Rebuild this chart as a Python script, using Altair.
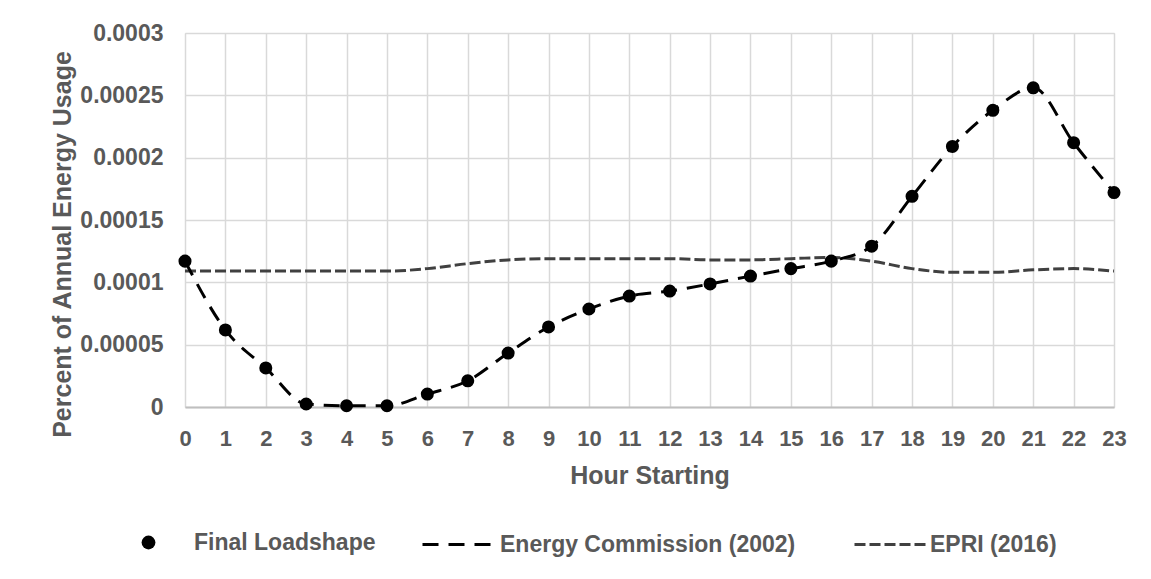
import altair as alt
import pandas as pd

hours = list(range(24))
final_loadshape = [0.000117, 0.0000618, 0.0000313, 0.0000024, 0.000001, 0.000001,
                   0.0000104, 0.000021, 0.0000433, 0.0000642, 0.0000786, 0.000089,
                   0.000093, 0.0000987, 0.000105, 0.000111, 0.000117, 0.000129,
                   0.000169, 0.000209, 0.000238, 0.000256, 0.000212, 0.000172]
energy_commission = [0.000117, 0.0000618, 0.0000313, 0.0000024, 0.000001, 0.000001,
                     0.0000104, 0.000021, 0.0000433, 0.0000642, 0.0000786, 0.000089,
                     0.000093, 0.0000987, 0.000105, 0.000111, 0.000117, 0.000129,
                     0.000169, 0.000209, 0.000238, 0.000256, 0.000212, 0.000172]
epri = [0.000109, 0.000109, 0.000109, 0.000109, 0.000109, 0.000109,
        0.000111, 0.000115, 0.000118, 0.000119, 0.000119, 0.000119,
        0.000119, 0.000118, 0.000118, 0.000119, 0.000120, 0.000117,
        0.000111, 0.000108, 0.000108, 0.000110, 0.000111, 0.000109]
y_ticks = [0, 0.00005, 0.0001, 0.00015, 0.0002, 0.00025, 0.0003]

df_final = pd.DataFrame({"hour": hours, "value": final_loadshape, "series": "Final Loadshape"})
df_ec = pd.DataFrame({"hour": hours, "value": energy_commission, "series": "Energy Commission (2002)"})
df_epri = pd.DataFrame({"hour": hours, "value": epri, "series": "EPRI (2016)"})

W, H = 929, 374
GRAY = "#595959"
FONT = "Liberation Sans"

axis_style = dict(labelFontWeight="bold", labelColor=GRAY, labelFont=FONT,
                  titleFont=FONT, titleFontSize=25, titleFontWeight="bold", titleColor=GRAY,
                  gridColor="#d9d9d9", gridWidth=1.5, tickSize=0, grid=True)

x_enc = alt.X("hour:Q", scale=alt.Scale(domain=[0, 23], nice=False),
              axis=alt.Axis(values=hours, format="d", title="Hour Starting",
                            labelFontSize=22, labelPadding=21, labelFlush=False,
                            labelOverlap=False,
                            titleY=68, titleBaseline="middle",
                            domainColor="#bfbfbf", domainWidth=2, **axis_style))
y_enc = alt.Y("value:Q", scale=alt.Scale(domain=[0, 0.0003], nice=False),
              axis=alt.Axis(values=y_ticks, format=".5~f",
                            title="Percent of Annual Energy Usage",
                            labelFontSize=23, labelPadding=22, domain=False,
                            labelFlush=False,
                            titleX=-123, titleY=211, titleAlign="center",
                            titleBaseline="middle", **axis_style))

leg_common = dict(orient="none", title=None, direction="horizontal",
                  labelFont=FONT, labelFontSize=23, labelFontWeight="bold",
                  labelColor=GRAY, padding=0, labelLimit=0)

epri_layer = alt.Chart(df_epri).mark_line(
    strokeWidth=3, strokeDash=[11, 4], interpolate="monotone"
).encode(
    x=x_enc, y=y_enc,
    color=alt.Color("series:N", scale=alt.Scale(range=["#404040"]),
                    legend=alt.Legend(legendX=668, legendY=474, symbolType="stroke",
                                      symbolSize=5184, symbolDash=[11, 4],
                                      symbolStrokeWidth=3, labelOffset=2, **leg_common))
)

ec_layer = alt.Chart(df_ec).mark_line(
    strokeWidth=3, strokeDash=[16, 10], interpolate="monotone"
).encode(
    x=x_enc, y=y_enc,
    color=alt.Color("series:N", scale=alt.Scale(range=["black"]),
                    legend=alt.Legend(legendX=236, legendY=473, symbolType="stroke",
                                      symbolSize=5476, symbolDash=[16, 10],
                                      symbolStrokeWidth=3, labelOffset=2, **leg_common))
)

pt_layer = alt.Chart(df_final).mark_circle(size=170, opacity=1).encode(
    x=x_enc, y=y_enc,
    color=alt.Color("series:N", scale=alt.Scale(range=["black"]),
                    legend=alt.Legend(legendX=-48, legendY=498, symbolType="circle",
                                      symbolSize=190, symbolOpacity=1,
                                      symbolFillColor="black", symbolStrokeWidth=0,
                                      labelOffset=34, **leg_common))
)

chart = alt.layer(epri_layer, ec_layer, pt_layer).resolve_scale(
    color="independent"
).resolve_legend(color="independent").properties(
    width=W, height=H,
    autosize="none",
    padding={"left": 177, "top": 25, "right": 20, "bottom": 164},
).configure_view(stroke=None).configure(background="white")

chart.save("out.html", embed_options={"renderer": "svg", "actions": False})
